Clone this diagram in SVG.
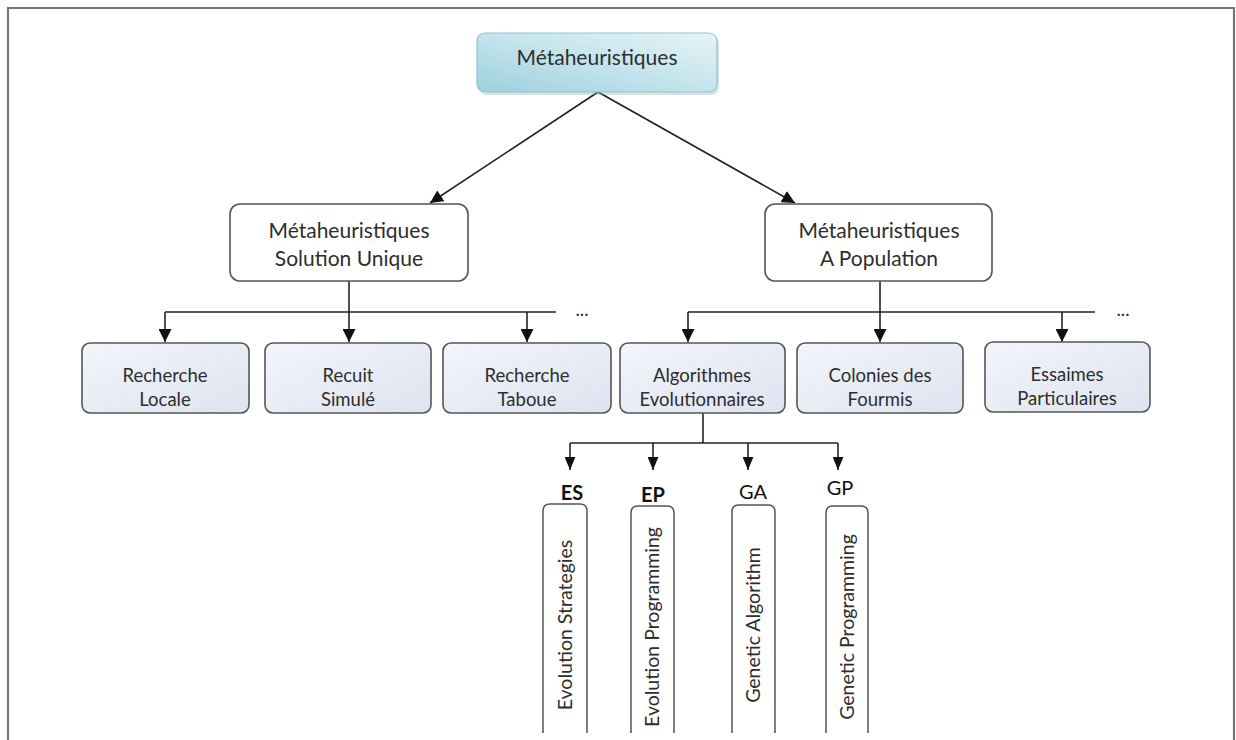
<svg xmlns="http://www.w3.org/2000/svg" width="1236" height="740" viewBox="0 0 1236 740">
  <defs>
    <linearGradient id="rootFill" x1="0" y1="1" x2="1" y2="0">
      <stop offset="0" stop-color="#9dd0dd"/>
      <stop offset="0.5" stop-color="#c4e4ec"/>
      <stop offset="1" stop-color="#e6f4f7"/>
    </linearGradient>
    <linearGradient id="leafFill" x1="0" y1="0" x2="1" y2="1">
      <stop offset="0" stop-color="#f3f5fa"/>
      <stop offset="1" stop-color="#dde3f0"/>
    </linearGradient>
    <marker id="arrow" viewBox="0 0 12 12" refX="12" refY="6" markerWidth="13" markerHeight="13" markerUnits="userSpaceOnUse" orient="auto">
      <path d="M0,0 L12,6 L0,12 z" fill="#111"/>
    </marker>
    <marker id="arrowSmall" viewBox="0 0 12 10" refX="12" refY="5" markerWidth="13" markerHeight="11" markerUnits="userSpaceOnUse" orient="auto">
      <path d="M0,0 L12,5 L0,10 z" fill="#111"/>
    </marker>
  </defs>
  <style>
    text { font-family: Lato, "Open Sans", "Liberation Sans", sans-serif; fill: #2e2e2e; text-anchor: middle; }
    .t19 { font-size: 21px; }
    .t17 { font-size: 18.5px; }
    .tv { font-size: 19.5px; }
    .abbr { font-size: 20px; fill: #111; }
    .bold { font-weight: bold; }
    .mid { fill: #ffffff; stroke: #555; stroke-width: 1.6; }
    .leaf { fill: url(#leafFill); stroke: #555; stroke-width: 1.6; }
    .strip { fill: #ffffff; stroke: #555; stroke-width: 1.5; }
    .wire { fill: none; stroke: #222; stroke-width: 1.6; }
  </style>

  <rect x="0" y="0" width="1236" height="740" fill="#ffffff"/>
  <!-- outer frame, open at the bottom -->
  <path d="M8,740 L8,8 L1234,8 L1234,740" fill="none" stroke="#777" stroke-width="2.2"/>

  <!-- connectors -->
  <g id="connectors">
    <line class="wire" x1="598" y1="92" x2="430" y2="203" marker-end="url(#arrow)"/>
    <line class="wire" x1="598" y1="92" x2="795" y2="203" marker-end="url(#arrow)"/>

    <line class="wire" x1="349" y1="281" x2="349" y2="342" marker-end="url(#arrow)"/>
    <line class="wire" x1="165" y1="312" x2="556" y2="312"/>
    <line class="wire" x1="165" y1="312" x2="165" y2="342" marker-end="url(#arrow)"/>
    <line class="wire" x1="527" y1="312" x2="527" y2="342" marker-end="url(#arrow)"/>

    <line class="wire" x1="880" y1="281" x2="880" y2="342" marker-end="url(#arrow)"/>
    <line class="wire" x1="688" y1="312" x2="1095" y2="312"/>
    <line class="wire" x1="688" y1="312" x2="688" y2="342" marker-end="url(#arrow)"/>
    <line class="wire" x1="1062" y1="312" x2="1062" y2="342" marker-end="url(#arrow)"/>

    <line class="wire" x1="703" y1="413" x2="703" y2="443"/>
    <line class="wire" x1="570" y1="443" x2="838" y2="443"/>
    <line class="wire" x1="570" y1="443" x2="570" y2="470" marker-end="url(#arrowSmall)"/>
    <line class="wire" x1="653" y1="443" x2="653" y2="470" marker-end="url(#arrowSmall)"/>
    <line class="wire" x1="748" y1="443" x2="748" y2="470" marker-end="url(#arrowSmall)"/>
    <line class="wire" x1="838" y1="443" x2="838" y2="470" marker-end="url(#arrowSmall)"/>

    <text class="t17" x="582" y="316">...</text>
    <text class="t17" x="1123" y="316">...</text>
  </g>

  <!-- root -->
  <g id="root">
    <rect x="479" y="36" width="240" height="59" rx="8" fill="#9aa9ad" opacity="0.35"/>
    <rect x="477" y="33" width="240" height="59" rx="8" fill="url(#rootFill)" stroke="#8fc4d1" stroke-width="1.2"/>
    <text class="t19" x="597" y="65">Métaheuristiques</text>
  </g>

  <!-- second level -->
  <g id="single-solution">
    <rect class="mid" x="230" y="204" width="238" height="77" rx="10"/>
    <text class="t19" x="349" y="238">Métaheuristiques</text>
    <text class="t19" x="349" y="266">Solution Unique</text>
  </g>
  <g id="population">
    <rect class="mid" x="765" y="204" width="227" height="77" rx="10"/>
    <text class="t19" x="879" y="238">Métaheuristiques</text>
    <text class="t19" x="879" y="266">A Population</text>
  </g>

  <!-- single-solution methods -->
  <g id="local-search">
    <rect class="leaf" x="82" y="343" width="167" height="70" rx="8"/>
    <text class="t17" x="165" y="382">Recherche</text>
    <text class="t17" x="165" y="406">Locale</text>
  </g>
  <g id="simulated-annealing">
    <rect class="leaf" x="265" y="343" width="166" height="70" rx="8"/>
    <text class="t17" x="348" y="382">Recuit</text>
    <text class="t17" x="348" y="406">Simulé</text>
  </g>
  <g id="tabu-search">
    <rect class="leaf" x="443" y="343" width="168" height="70" rx="8"/>
    <text class="t17" x="527" y="382">Recherche</text>
    <text class="t17" x="527" y="406">Taboue</text>
  </g>

  <!-- population methods -->
  <g id="evolutionary">
    <rect class="leaf" x="620" y="343" width="165" height="70" rx="8"/>
    <text class="t17" x="702" y="382">Algorithmes</text>
    <text class="t17" x="702" y="406">Evolutionnaires</text>
  </g>
  <g id="ant-colonies">
    <rect class="leaf" x="797" y="343" width="166" height="70" rx="8"/>
    <text class="t17" x="880" y="382">Colonies des</text>
    <text class="t17" x="880" y="406">Fourmis</text>
  </g>
  <g id="particle-swarms">
    <rect class="leaf" x="985" y="342" width="165" height="70" rx="8"/>
    <text class="t17" x="1067" y="381">Essaimes</text>
    <text class="t17" x="1067" y="405">Particulaires</text>
  </g>

  <!-- evolutionary families -->
  <g id="es">
    <text class="abbr bold" x="572" y="500">ES</text>
    <path class="strip" d="M543,733 L543,511 Q543,504 550,504 L580,504 Q587,504 587,511 L587,733"/>
    <text class="tv" transform="translate(572,625) rotate(-90)">Evolution Strategies</text>
  </g>
  <g id="ep">
    <text class="abbr bold" x="653" y="502">EP</text>
    <path class="strip" d="M631,733 L631,513 Q631,506 638,506 L667,506 Q674,506 674,513 L674,733"/>
    <text class="tv" transform="translate(659,627) rotate(-90)">Evolution Programming</text>
  </g>
  <g id="ga">
    <text class="abbr" x="753" y="499">GA</text>
    <path class="strip" d="M732,733 L732,512 Q732,505 739,505 L768,505 Q775,505 775,512 L775,733"/>
    <text class="tv" transform="translate(760,625) rotate(-90)">Genetic Algorithm</text>
  </g>
  <g id="gp">
    <text class="abbr" x="840" y="495">GP</text>
    <path class="strip" d="M826,733 L826,513 Q826,506 833,506 L861,506 Q868,506 868,513 L868,733"/>
    <text class="tv" transform="translate(854,627) rotate(-90)">Genetic Programming</text>
  </g>
</svg>
